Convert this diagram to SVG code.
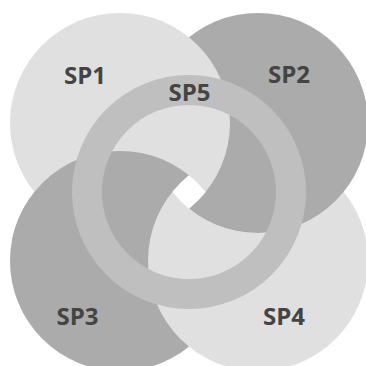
<svg xmlns="http://www.w3.org/2000/svg" width="366" height="366" viewBox="0 0 366 366">
  <style>
    .light { fill: #e0e0e0; }
    .dark { fill: #ababab; }
    .ring { fill: none; stroke: #bfbfbf; stroke-width: 30; }
    .lbl { font-family: "Open Sans", "Liberation Sans", sans-serif; font-weight: 700; font-size: 24px; fill: #444444; text-anchor: middle; }
  </style>
  <defs>
    <mask id="m3" maskUnits="userSpaceOnUse" x="0" y="0" width="366" height="366">
      <rect x="0" y="0" width="366" height="240" fill="#fff"/>
      <circle cx="258" cy="261" r="110" fill="#000"/>
    </mask>
    <mask id="m4" maskUnits="userSpaceOnUse" x="0" y="0" width="366" height="366">
      <rect x="0" y="0" width="366" height="240" fill="#fff"/>
      <circle cx="258" cy="123" r="110" fill="#000"/>
    </mask>
  </defs>
  <rect width="366" height="366" fill="#ffffff"/>
  <g id="sp3">
    <circle class="dark" cx="120" cy="261" r="110"/>
    <text class="lbl" x="77.5" y="325">SP3</text>
  </g>
  <g id="sp4">
    <circle class="light" cx="258" cy="261" r="110"/>
    <text class="lbl" x="284" y="325">SP4</text>
  </g>
  <g id="sp2">
    <circle class="dark" cx="258" cy="123" r="110"/>
    <text class="lbl" x="289" y="83">SP2</text>
  </g>
  <g id="sp1">
    <circle class="light" cx="120" cy="123" r="110"/>
    <text class="lbl" x="85" y="84">SP1</text>
  </g>
  <g id="weave">
    <circle class="dark" cx="120" cy="261" r="110" mask="url(#m3)"/>
    <circle class="light" cx="258" cy="261" r="110" mask="url(#m4)"/>
    <path fill="#ffffff" d="M189 175.33 A110 110 0 0 1 205.67 192 A110 110 0 0 1 189 208.67 A110 110 0 0 1 172.33 192 A110 110 0 0 1 189 175.33 Z"/>
  </g>
  <g id="sp5">
    <circle class="ring" cx="189" cy="192" r="102"/>
    <text class="lbl" x="189.5" y="101">SP5</text>
  </g>
</svg>
